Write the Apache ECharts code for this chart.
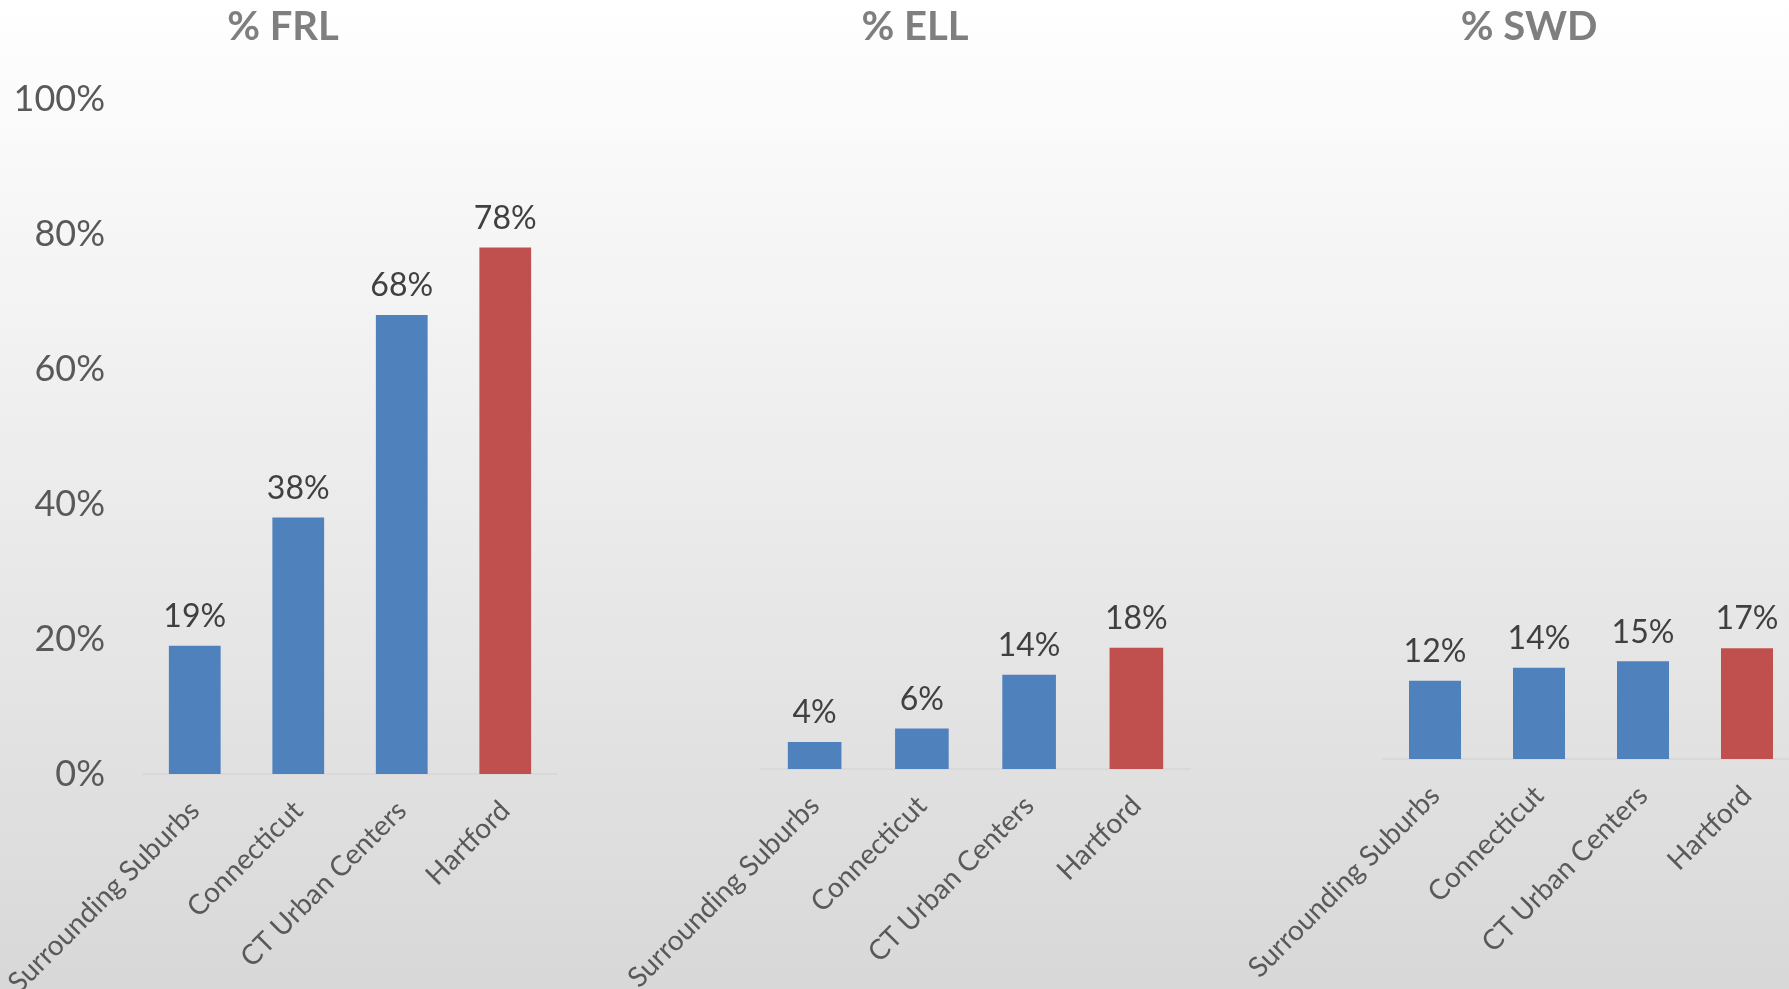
<!DOCTYPE html>
<html>
<head>
<meta charset="utf-8">
<script src="https://cdn.jsdelivr.net/npm/echarts@6/dist/echarts.min.js"></script>
<style>
  html, body { margin: 0; padding: 0; }
  #chart { width: 1789px; height: 989px; }
</style>
</head>
<body>
<div id="chart"></div>
<script>
// Student population shares: Hartford vs. comparison groups
const categories = ['Surrounding Suburbs', 'Connecticut', 'CT Urban Centers', 'Hartford'];
const panelTitles = ['% FRL', '% ELL', '% SWD'];
const frlValues = [19, 38, 68, 78];
const ellValues = [4, 6, 14, 18];
const swdValues = [12, 14, 15, 17];
const yTicks = [0, 20, 40, 60, 80, 100];

const BLUE = '#4f81bd';
const RED = '#c0504d';
const FONT = 'Lato, "Open Sans", sans-serif';

// panel layout: plot boxes in pixels
const panels = [
  { values: frlValues, left: 143, width: 414, top: 99, bottom: 215, showY: true, titleX: 278 },
  { values: ellValues, left: 761, width: 429, top: 96, bottom: 220, showY: false, titleX: 910 },
  { values: swdValues, left: 1383, width: 416, top: 107, bottom: 230, showY: false, titleX: 1524 }
];

const chart = echarts.init(document.getElementById('chart'));

const option = {
  backgroundColor: {
    type: 'linear', x: 0, y: 0, x2: 0, y2: 1,
    colorStops: [
      { offset: 0, color: '#ffffff' },
      { offset: 1, color: '#d8d8d8' }
    ]
  },
  animation: false,
  title: panels.map((p, i) => ({
    text: panelTitles[i],
    left: p.titleX,
    top: 2,
    textAlign: 'center',
    textStyle: { fontFamily: FONT, fontSize: 40, fontWeight: 'bold', color: '#7f7f7f' }
  })),
  // fixed plot boxes; long rotated labels may run off the bottom edge
  grid: panels.map(p => ({
    left: p.left, width: p.width, top: p.top, bottom: p.bottom,
    containLabel: false,
    outerBoundsMode: 'none'
  })),
  xAxis: panels.map((p, i) => ({
    type: 'category',
    gridIndex: i,
    data: categories,
    axisTick: { show: false },
    axisLine: { show: true, lineStyle: { color: '#d9d9d9', width: 2 } },
    axisLabel: {
      interval: 0,
      rotate: 45,
      margin: 32,
      fontFamily: FONT,
      fontSize: 28,
      color: '#595959'
    }
  })),
  yAxis: panels.map((p, i) => ({
    type: 'value',
    gridIndex: i,
    min: yTicks[0],
    max: yTicks[yTicks.length - 1],
    interval: yTicks[1] - yTicks[0],
    show: p.showY,
    splitLine: { show: false },
    axisLine: { show: false },
    axisTick: { show: false },
    axisLabel: {
      show: p.showY,
      formatter: '{value}%',
      margin: 38,
      fontFamily: FONT,
      fontSize: 36,
      color: '#595959'
    }
  })),
  series: panels.map((p, i) => ({
    type: 'bar',
    xAxisIndex: i,
    yAxisIndex: i,
    barWidth: '50%',
    data: p.values.map((v, k) => ({
      value: v,
      itemStyle: { color: categories[k] === 'Hartford' ? RED : BLUE }
    })),
    label: {
      show: true,
      position: 'top',
      distance: 13,
      formatter: '{c}%',
      fontFamily: FONT,
      fontSize: 32,
      color: '#404040'
    }
  }))
};

chart.setOption(option);
</script>
</body>
</html>
